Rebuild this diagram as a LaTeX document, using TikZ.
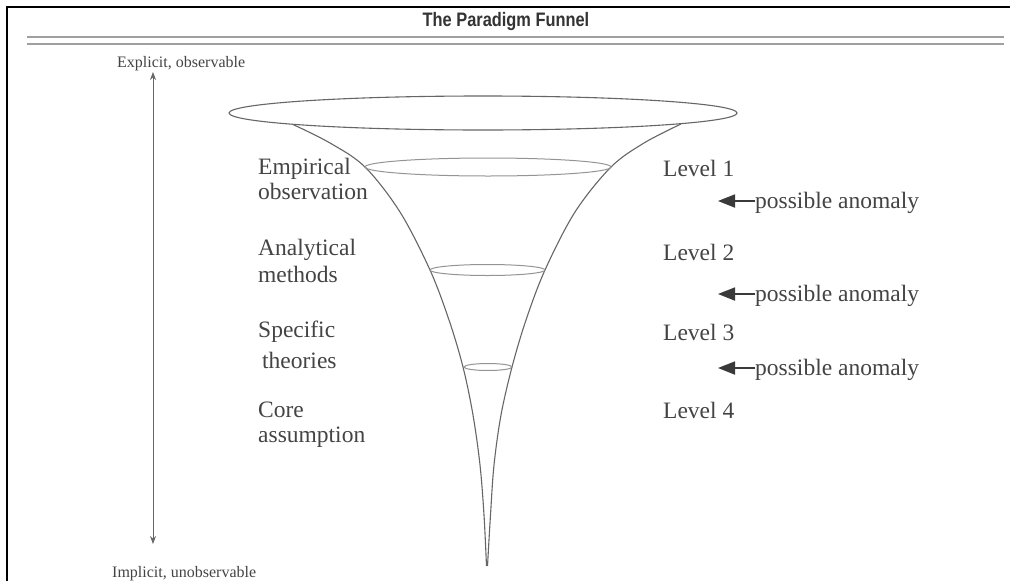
\documentclass[tikz,border=0pt]{standalone}
\usepackage{fontspec}
\setmainfont{Liberation Serif}
\newfontfamily\titlefont{Liberation Sans}
\usetikzlibrary{arrows.meta}
\definecolor{ink}{HTML}{444444}
\definecolor{linegray}{HTML}{666666}
\definecolor{headgray}{HTML}{3A3A3A}
\tikzset{
  lbl/.style={anchor=base west, inner sep=0pt, text=ink, font=\fontsize{23.5}{26}\selectfont},
  small/.style={anchor=base west, inner sep=0pt, text=ink, font=\fontsize{16}{18}\selectfont},
  funnel/.style={draw=linegray, line width=1.1pt},
  ring/.style={draw=linegray!70, line width=1pt},
  anom/.style={draw=headgray, line width=1.8pt, -{Triangle[length=17pt,width=13pt]}},
  axisarrow/.style={draw=linegray, line width=1pt, {Stealth[length=8pt,width=6pt]}-{Stealth[length=8pt,width=6pt]}},
  rule/.style={draw=gray!75, line width=2pt}
}
\begin{document}
\begin{tikzpicture}[x=1pt,y=-1pt]
\useasboundingbox[fill=white] (0,0) rectangle (1010,581);
% frame
\draw[black, line width=2pt] (7,581) -- (7,7) -- (1010,7);
% title
\node[font=\titlefont\bfseries\fontsize{19.5}{22}\selectfont, text=black!80, inner sep=0pt] (title) at (506,22) {\scalebox{0.84}[1]{The Paradigm Funnel}};
\draw[rule] (27,37) -- (1004,37);
\draw[rule] (27,44) -- (1004,44);
% axis labels and arrow
\node[small] (explicit) at (117,67) {Explicit, observable};
\node[small] (implicit) at (112,577) {Implicit, unobservable};
\coordinate (atop) at (153,72);
\coordinate (abot) at (153,544);
\draw[axisarrow] (atop) -- (abot);
% funnel
\draw[funnel] (483,113) ellipse [x radius=254, y radius=17];
\draw[funnel] plot[smooth, tension=0.55] coordinates {(293,124.5) (330,143) (365,167) (400,212) (430,270) (449,320) (463,367) (473,415) (480,465) (484,515) (486.5,566)};
\draw[funnel] plot[smooth, tension=0.55] coordinates {(681,124) (644,143) (611,167) (575,212) (545,270) (526,320) (512,367) (501,415) (494,465) (490.5,515) (487.5,566)};
\draw[ring] (488,167) ellipse [x radius=123, y radius=9];
\draw[ring] (487.5,270) ellipse [x radius=57.5, y radius=5.5];
\draw[ring] (488,367) ellipse [x radius=24, y radius=3.5];
% left labels
\node[lbl] (emp) at (258,174) {Empirical};
\node[lbl] (obs) at (258,199) {observation};
\node[lbl] (ana) at (258,255) {Analytical};
\node[lbl] (met) at (258,282) {methods};
\node[lbl] (spe) at (258,337) {Specific};
\node[lbl] (the) at (262,368) {theories};
\node[lbl] (cor) at (258,417) {Core};
\node[lbl] (ass) at (258,442) {assumption};
% right labels
\node[lbl] (lv1) at (663,176) {Level 1};
\node[lbl] (lv2) at (663,260) {Level 2};
\node[lbl] (lv3) at (663,340) {Level 3};
\node[lbl] (lv4) at (663,418) {Level 4};
% anomalies
\node[lbl] (pa1) at (755,208) {possible anomaly};
\node[lbl] (pa2) at (755,301) {possible anomaly};
\node[lbl] (pa3) at (755,375) {possible anomaly};
\coordinate (t1) at (718,201);
\coordinate (t2) at (718,294);
\coordinate (t3) at (718,368);
\draw[anom] (pa1.west |- t1) -- (t1);
\draw[anom] (pa2.west |- t2) -- (t2);
\draw[anom] (pa3.west |- t3) -- (t3);
\end{tikzpicture}
\end{document}
